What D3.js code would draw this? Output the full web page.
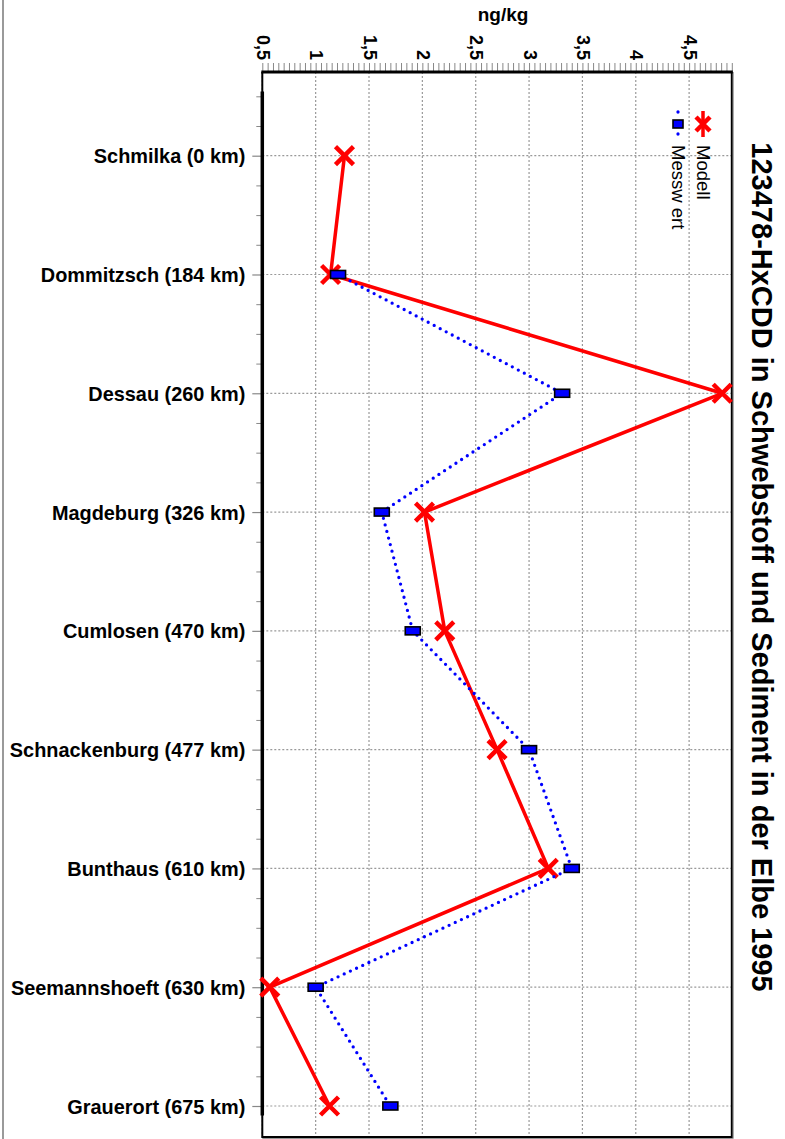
<!DOCTYPE html>
<html>
<head>
<meta charset="utf-8">
<script src="https://cdn.jsdelivr.net/npm/d3@7"></script>
<style>
  html, body { margin: 0; padding: 0; background: #fff; }
  svg { display: block; font-family: "Liberation Sans", Arial, sans-serif; }
</style>
</head>
<body>
<svg id="chart" width="785" height="1139"></svg>
<script>
// Measuring stations along the Elbe (with river kilometre)
const stations = [
  "Schmilka (0 km)", "Dommitzsch (184 km)", "Dessau (260 km)", "Magdeburg (326 km)",
  "Cumlosen (470 km)", "Schnackenburg (477 km)", "Bunthaus (610 km)",
  "Seemannshoeft (630 km)", "Grauerort (675 km)"
];
// 123478-HxCDD, ng/kg
const modell   = [1.27, 1.14, 4.81, 2.02, 2.21, 2.70, 3.18, 0.57, 1.13];
const messwert = [null, 1.21, 3.31, 1.62, 1.91, 3.00, 3.40, 1.00, 1.70];
const valueTicks = [0.5, 1, 1.5, 2, 2.5, 3, 3.5, 4, 4.5];
const seriesNames = ["Modell", "Messw ert"];
const chartTitle = "123478-HxCDD in Schwebstoff und Sediment in der Elbe 1995";
const unitLabel = "ng/kg";

const svg = d3.select("#chart");
const pL = 262.3, pR = 731.8, pT = 72, pB = 1137;

const x = d3.scaleLinear().domain([0.5, 4.9]).range([pL, pR]);
const y = d3.scaleLinear().domain([0, stations.length - 1]).range([155.7, 1106]);
const fmt = d => String(d).replace(".", ",");

// outer frame edge
svg.append("line").attr("x1", 3).attr("x2", 3).attr("y1", 0).attr("y2", 1139)
  .attr("stroke", "#9a9a9a").attr("stroke-width", 2);

// grid
const grid = svg.append("g").attr("stroke", "#999").attr("stroke-width", 1.2)
  .attr("stroke-dasharray", "2,2");
grid.selectAll(".gv").data(valueTicks).join("line").attr("class", "gv")
  .attr("x1", d => x(d)).attr("x2", d => x(d)).attr("y1", pT).attr("y2", pB);
grid.selectAll(".gh").data(stations).join("line").attr("class", "gh")
  .attr("x1", pL).attr("x2", pR).attr("y1", (d, i) => y(i)).attr("y2", (d, i) => y(i));

// plot frame
svg.append("path")
  .attr("d", `M${pL},${pT}V${pB}H${pR}V${pT}`)
  .attr("fill", "none").attr("stroke", "#000").attr("stroke-width", 2);
svg.append("path")
  .attr("d", `M${pL},${pB + 1.5}H${pR + 1.5}V${pT}`)
  .attr("fill", "none").attr("stroke", "#999").attr("stroke-width", 1);

// top value axis: minor ticks every 0.05
const minor = d3.range(0, 89).map(i => +(0.5 + i * 0.05).toFixed(2));
const axMinor = svg.append("g").attr("transform", `translate(0,${pT})`)
  .call(d3.axisTop(x).tickValues(minor).tickSize(9).tickFormat(""));
axMinor.select(".domain").remove();
axMinor.selectAll(".tick line").attr("stroke", "#888").attr("stroke-width", 1);

const axMajor = svg.append("g").attr("transform", `translate(0,${pT})`)
  .call(d3.axisTop(x).tickValues(valueTicks).tickSize(0).tickFormat(fmt));
axMajor.select(".domain").remove();
axMajor.selectAll(".tick text")
  .attr("transform", "rotate(90)")
  .attr("x", -12).attr("y", 0).attr("dy", null)
  .attr("text-anchor", "end")
  .attr("dominant-baseline", "central")
  .attr("font-size", 18).attr("font-weight", "bold").attr("fill", "#000");
svg.append("line").attr("x1", pL - 1).attr("x2", pR + 1).attr("y1", pT).attr("y2", pT)
  .attr("stroke", "#000").attr("stroke-width", 3);

svg.append("text").attr("x", (pL + pR) / 2 + 6).attr("y", 21)
  .attr("text-anchor", "middle").attr("font-size", 19).attr("font-weight", "bold")
  .text(unitLabel);

// left station axis
const quarter = d3.range(-2, 33).map(i => i / 4).filter(v => v % 1 !== 0);
const axQ = svg.append("g").attr("transform", `translate(${pL},0)`)
  .call(d3.axisLeft(y).tickValues(quarter).tickSize(6).tickFormat(""));
axQ.select(".domain").remove();
axQ.selectAll(".tick line").attr("stroke", "#888");

const axS = svg.append("g").attr("transform", `translate(${pL},0)`)
  .call(d3.axisLeft(y).tickValues(d3.range(stations.length)).tickSize(10).tickPadding(7)
    .tickFormat(i => stations[i]));
axS.select(".domain").remove();
axS.selectAll(".tick line").attr("stroke", "#888").attr("stroke-width", 1.2);
axS.selectAll(".tick text").attr("font-size", 19.9).attr("font-weight", "bold")
  .attr("fill", "#000").attr("dy", null).attr("dominant-baseline", "central");
svg.append("line").attr("x1", pL).attr("x2", pL)
  .attr("y1", y(-0.54)).attr("y2", y(8.08))
  .attr("stroke", "#000").attr("stroke-width", 3.5);

// Modell series
const lineM = d3.line().x(d => x(d)).y((d, i) => y(i));
svg.append("path").datum(modell).attr("d", lineM)
  .attr("fill", "none").attr("stroke", "#ff0000").attr("stroke-width", 3.5)
  .attr("stroke-linejoin", "round");
const xMark = (sel, s) => sel.attr("d", `M${-s},${-s}L${s},${s}M${-s},${s}L${s},${-s}`)
  .attr("fill", "none").attr("stroke", "#ff0000").attr("stroke-width", 4.5);
svg.append("g").selectAll("path").data(modell).join("path")
  .attr("transform", (d, i) => `translate(${x(d)},${y(i)})`)
  .call(xMark, 9);

// Messwert series
const lineW = d3.line().defined(d => d != null).x(d => x(d)).y((d, i) => y(i));
svg.append("path").datum(messwert).attr("d", lineW)
  .attr("fill", "none").attr("stroke", "#0000ff").attr("stroke-width", 3.3)
  .attr("stroke-dasharray", "0,6.8").attr("stroke-linecap", "round");
svg.append("g").selectAll("rect")
  .data(messwert.map((v, i) => ({ v, i })).filter(d => d.v != null)).join("rect")
  .attr("x", d => x(d.v) - 7.5).attr("y", d => y(d.i) - 4)
  .attr("width", 15).attr("height", 8)
  .attr("fill", "#0000ff").attr("stroke", "#000").attr("stroke-width", 1.6);

// legend (rotated)
const lg = svg.append("g");
lg.append("line").attr("x1", 703).attr("x2", 703).attr("y1", 111).attr("y2", 137)
  .attr("stroke", "#ff0000").attr("stroke-width", 3.5);
lg.append("path").attr("transform", "translate(703,124)").call(xMark, 7);
lg.append("line").attr("x1", 678).attr("x2", 678).attr("y1", 112).attr("y2", 137)
  .attr("stroke", "#0000ff").attr("stroke-width", 3.3)
  .attr("stroke-dasharray", "0,22").attr("stroke-linecap", "round");
lg.append("rect").attr("x", 673).attr("y", 120).attr("width", 10).attr("height", 8)
  .attr("fill", "#0000ff").attr("stroke", "#000").attr("stroke-width", 1.6);
lg.selectAll("text").data(seriesNames).join("text")
  .attr("transform", (d, i) => `translate(${703 - i * 25},145) rotate(90)`)
  .attr("dominant-baseline", "central").attr("font-size", 18.5)
  .text(d => d);

// title (rotated)
svg.append("text").attr("transform", "translate(762,567) rotate(90)")
  .attr("text-anchor", "middle").attr("dominant-baseline", "central")
  .attr("font-size", 29).attr("font-weight", "bold")
  .text(chartTitle);
</script>
</body>
</html>
